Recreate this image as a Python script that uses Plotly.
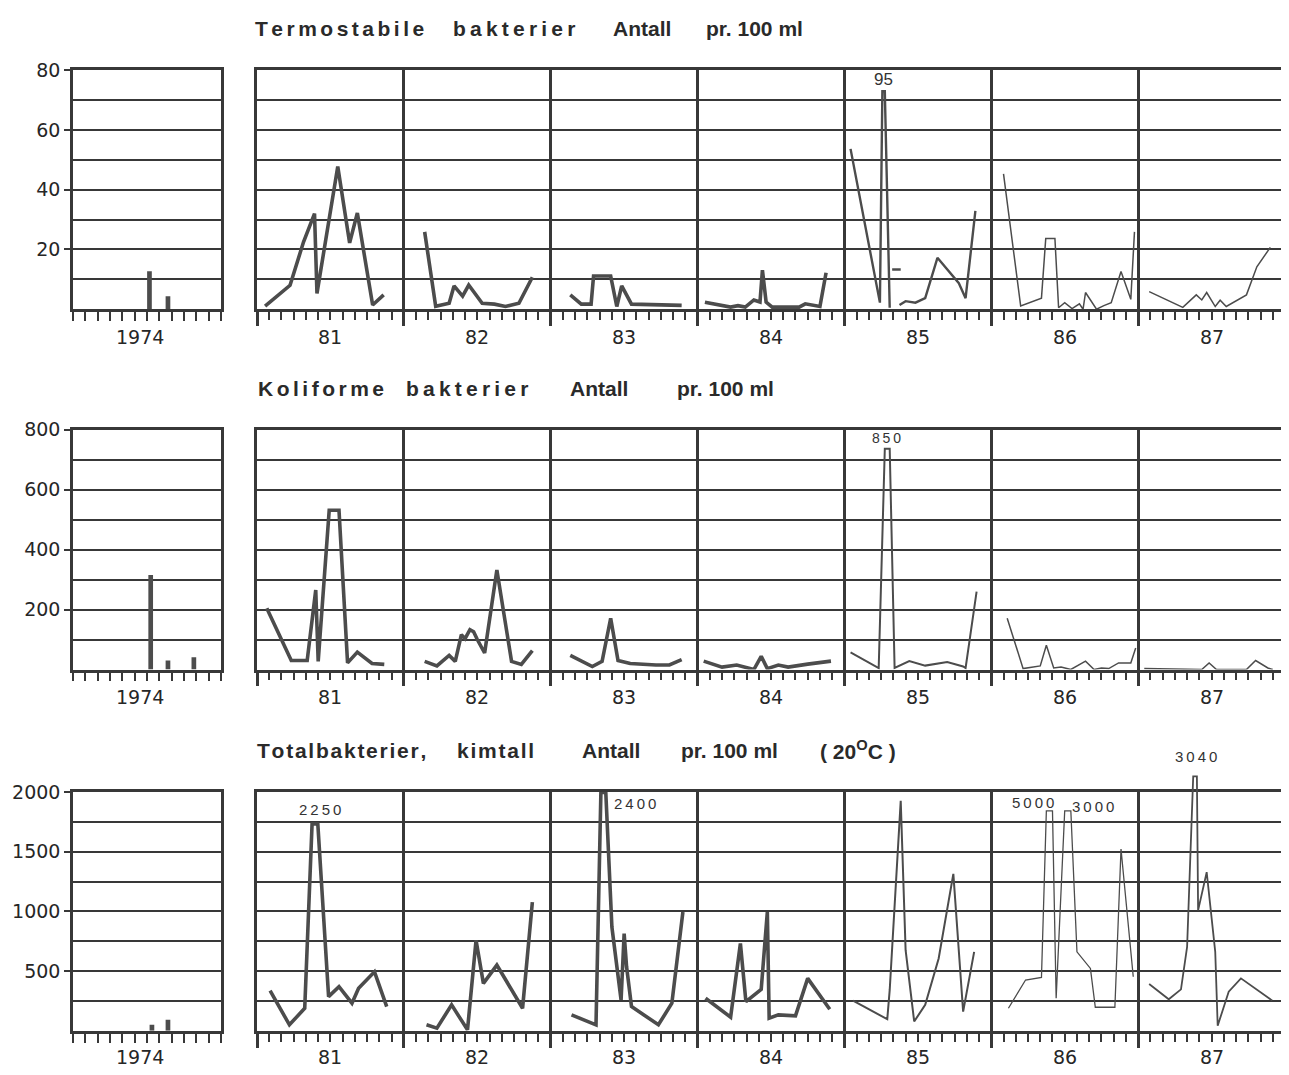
import plotly.graph_objects as go

W, H = 1289, 1075
OFF = 8  # page body margin of the html output
INK = "#383838"
LINE = "#4c4c4c"
FONT = "Liberation Sans"
NUM_FONT = "DejaVu Sans"

YEAR_LABELS = ["81", "82", "83", "84", "85", "86", "87"]

# x = months since Jan 1981 (main panels) / months into 1974 (small panels), None = gap
# Termostabile bakterier, antall pr. 100 ml
TERMO_1974_M = [6.2, 7.7]
TERMO_1974_V = [12.7, 4.3]
TERMO_M = [0.66, 2.7, 3.8, 4.7, 4.9, 6.6, 7.57, 8.2, 9.45, 10.35, None,
           13.7, 14.6, 15.7, 16.1, 16.8, 17.3, 18.4, 19.4, 20.3, 21.4, 22.5, None,
           25.6, 26.5, 27.3, 27.5, 28.9, 29.4, 29.8, 30.6, 34.7, None,
           36.6, 37.8, 38.7, 39.3, 39.9, 40.6, 41.1, 41.3, 41.6, 42.1, 44.3, 44.8, 46.0, 46.5, None,
           48.5, 50.9, 51.1, 51.3, 51.7, None,
           51.9, 52.6, None,
           52.5, 53.0, 53.8, 54.6, 55.6, 56.8, 57.35, 57.9, 58.7, None,
           61.0, 62.4, 64.1, 64.45, 65.2, 65.5, 66.0, 66.6, 67.2, 67.5, 67.7, 68.6, 69.2, 69.8, 70.6, 71.4, 71.7, None,
           72.9, 75.65, 76.75, 77.2, 77.6, 78.3, 78.7, 79.2, 80.85, 81.7, 82.8]
TERMO_V = [1, 8, 22.5, 32, 5.3, 47.8, 22.2, 32.2, 1.4, 4.8, None,
           25.9, 1, 2, 7.8, 4.4, 8.1, 2, 1.7, 0.9, 2, 10.7, None,
           4.8, 1.7, 1.7, 11.1, 11.1, 0.9, 7.8, 1.7, 1.3, None,
           2.3, 1.4, 0.7, 1.2, 0.7, 3.1, 2.4, 13.1, 2.4, 0.7, 0.7, 1.8, 0.9, 12.2, None,
           53.7, 2.2, 73, 73, 0.5, None,
           13.3, 13.3, None,
           1.4, 2.7, 2.2, 3.7, 17.2, 11.4, 8.7, 3.7, 32.9, None,
           45.3, 1.1, 3.7, 23.7, 23.7, 0.5, 2.2, 0.2, 1.8, 0, 5.6, 0, 1.2, 2.2, 12.6, 3.3, 25.9, None,
           5.9, 0.6, 4.8, 3.1, 5.6, 0.9, 3.0, 0.9, 4.8, 14.2, 20.7]
TERMO_NOTE_M = [51.2]
TERMO_NOTE_Y = [77]
TERMO_NOTE_TXT = ["95"]

# Koliforme bakterier, antall pr. 100 ml
KOLI_1974_M = [6.3, 7.7, 9.8]
KOLI_1974_V = [315, 30, 41]
KOLI_M = [0.8, 2.8, 4.1, 4.8, 5.0, 5.9, 6.7, 7.4, 8.2, 9.4, 10.4, None,
          13.7, 14.7, 15.7, 16.2, 16.7, 17.0, 17.4, 17.7, 18.0, 18.6, 19.6, 20.8, 21.6, 22.5, None,
          25.6, 27.4, 28.2, 28.9, 29.5, 30.5, 32.6, 33.7, 34.7, None,
          36.5, 38.0, 39.2, 40.6, 41.2, 41.7, 42.6, 43.4, 45.0, 46.9, None,
          48.5, 50.8, 51.3, 51.7, 52.1, 53.3, 54.6, 56.4, 57.7, 57.9, 58.8, None,
          61.3, 62.6, 64.0, 64.5, 65.1, 65.7, 66.5, 67.7, 68.4, 69.0, 69.6, 70.4, 71.4, 71.8, None,
          72.5, 77.2, 77.8, 78.4, 80.85, 81.6, 82.6, 83.0]
KOLI_V = [204, 30, 30, 265, 27, 531, 531, 22, 58, 20, 17, None,
          27, 12, 47, 27, 116, 103, 133, 126, 100, 55, 332, 27, 17, 63, None,
          47, 10, 27, 171, 30, 20, 15, 15, 33, None,
          28, 8, 15, 0, 44, 3, 15, 8, 18, 28, None,
          57, 5, 736, 736, 5, 28, 13, 25, 10, 5, 260, None,
          171, 3, 12, 81, 5, 8, 0, 28, 0, 5, 3, 22, 22, 72, None,
          3, 0, 22, 0, 0, 30, 5, 0]
KOLI_NOTE_M = [51.4]
KOLI_NOTE_Y = [771]
KOLI_NOTE_TXT = ["850"]

# Totalbakterier, kimtall, antall pr. 100 ml (20 C)
TOTAL_1974_M = [6.4, 7.7]
TOTAL_1974_V = [50, 92]
TOTAL_M = [1.07, 2.65, 3.9, 4.5, 4.97, 5.85, 6.7, 7.76, 8.3, 9.6, 10.6, None,
           13.85, 14.7, 15.9, 17.2, 17.9, 18.5, 19.6, 21.7, 22.5, None,
           25.7, 27.7, 28.1, 28.5, 29.0, 29.75, 30.0, 30.2, 30.6, 32.8, 33.9, 34.8, None,
           36.65, 38.7, 39.5, 39.95, 41.2, 41.7, 41.85, 42.6, 44.0, 45.0, 46.8, None,
           48.7, 51.5, 51.7, 52.6, 53.0, 53.7, 54.6, 55.7, 56.9, 57.7, 58.6, None,
           61.4, 62.8, 64.1, 64.5, 65.0, 65.3, 66.0, 66.5, 67.0, 68.1, 68.5, 70.1, 70.6, 71.6, None,
           72.9, 74.5, 75.5, 76.0, 76.5, 76.8, 76.9, 77.6, 78.3, 78.5, 79.4, 80.4, 82.95]
TOTAL_V = [336, 50, 189, 1731, 1731, 286, 369, 231, 356, 494, 203, None,
           50, 22, 217, 8, 758, 397, 550, 189, 1078, None,
           133, 50, 1995, 1995, 869, 258, 814, 536, 203, 50, 231, 994, None,
           272, 114, 731, 244, 347, 994, 106, 133, 125, 439, 181, None,
           253, 97, 342, 1925, 675, 78, 217, 606, 1314, 161, 661, None,
           189, 425, 447, 1842, 1842, 272, 1842, 1842, 661, 522, 197, 197, 1522, 453, None,
           392, 264, 347, 703, 2130, 2130, 1008, 1328, 661, 42, 328, 439, 253]
TOTAL_NOTE_M = [5.15, 30.9, 63.4, 68.3, 76.7]
TOTAL_NOTE_Y = [1850, 1900, 1911, 1875, 2300]
TOTAL_NOTE_TXT = ["2250", "2400", "5000", "3000", "3040"]

# ---- layout geometry (pixels of the page) ----
SMALL_X = (73, 221)
MAIN_X = (257, 1285)
ROWS = [
    dict(top=66, bottom=306, ymax=80, grid=10, labels=[20, 40, 60, 80], year_y=334,
         title_y=24, widths=[3.6, 3.6, 3.6, 3.6, 2.4, 1.5, 1.5], note_size=17,
         m74=TERMO_1974_M, v74=TERMO_1974_V, m=TERMO_M, v=TERMO_V,
         nm=TERMO_NOTE_M, ny=TERMO_NOTE_Y, nt=TERMO_NOTE_TXT,
         words=[("Termostabile", 253, "\u2006"), ("bakterier", 451, "\u2009"),
                ("Antall", 611, ""), ("pr. 100 ml", 704, "")]),
    dict(top=427, bottom=668, ymax=800, grid=100, labels=[200, 400, 600, 800], year_y=696,
         title_y=386, widths=[3.6, 3.6, 3.6, 3.6, 2.0, 1.5, 1.5], note_size=14,
         m74=KOLI_1974_M, v74=KOLI_1974_V, m=KOLI_M, v=KOLI_V,
         nm=KOLI_NOTE_M, ny=KOLI_NOTE_Y, nt=KOLI_NOTE_TXT,
         words=[("Koliforme", 256, "\u2006"), ("bakterier", 404, "\u2009"),
                ("Antall", 568, ""), ("pr. 100 ml", 675, "")]),
    dict(top=791, bottom=1031, ymax=2000, grid=250, labels=[500, 1000, 1500, 2000], year_y=1057,
         title_y=749, widths=[3.6, 3.6, 3.6, 3.6, 2.0, 1.3, 1.8], note_size=15,
         m74=TOTAL_1974_M, v74=TOTAL_1974_V, m=TOTAL_M, v=TOTAL_V,
         nm=TOTAL_NOTE_M, ny=TOTAL_NOTE_Y, nt=TOTAL_NOTE_TXT,
         words=[("Totalbakterier,", 255, "\u200a"), ("kimtall", 455, "\u200a"),
                ("Antall", 580, ""), ("pr. 100 ml", 679, ""),
                ("( 20<sup>O</sup>C )", 818, "")]),
]
OVERFLOW_TOP = 735  # the 1987 total-count spike and its label sit above the frame


def px(x):
    return (x - OFF) / W


def py(y):
    # small upward nudge near the top of the page
    y = y - (6.5 - 6 * y / H)
    return 1 - (y - OFF) / H


def segments(ms, vs):
    seg_m, seg_v = [], []
    for m, v in zip(ms, vs):
        if m is None:
            if seg_m:
                yield seg_m, seg_v
            seg_m, seg_v = [], []
        else:
            seg_m.append(m)
            seg_v.append(v)
    if seg_m:
        yield seg_m, seg_v


fig = go.Figure()
layout = dict(width=W, height=H, margin=dict(l=0, r=0, t=0, b=0),
              paper_bgcolor="white", plot_bgcolor="rgba(0,0,0,0)", showlegend=False,
              font=dict(family=FONT, color=INK))
annotations = []

# invisible overlay axes sharing the bottom row's scale, so a spike can leave the frame
last = ROWS[-1]
y_lo, y_hi = py(last["bottom"]), py(last["top"])
ov_hi = py(OVERFLOW_TOP)
layout["xaxis7"] = dict(domain=[px(MAIN_X[0]), px(MAIN_X[1])], range=[0, 84],
                        anchor="y7", visible=False)
layout["yaxis7"] = dict(domain=[y_lo, ov_hi],
                        range=[0, last["ymax"] * (ov_hi - y_lo) / (y_hi - y_lo)],
                        anchor="x7", visible=False)

for r, row in enumerate(ROWS):
    a, b = 2 * r + 1, 2 * r + 2
    ydom = [py(row["bottom"]), py(row["top"])]
    frame = dict(showline=True, mirror=True, linewidth=2.5, linecolor=INK, zeroline=False)

    layout[f"xaxis{a}"] = dict(domain=[px(SMALL_X[0]), px(SMALL_X[1])], range=[0, 12],
                               anchor=f"y{a}", tickvals=list(range(13)), ticks="outside",
                               ticklen=9, tickwidth=2, tickcolor=INK, showticklabels=False,
                               showgrid=False, **frame)
    layout[f"yaxis{a}"] = dict(domain=ydom, range=[0, row["ymax"]], anchor=f"x{a}",
                               tickvals=row["labels"], ticks="outside", ticklen=6, tickwidth=2,
                               tickcolor=INK, tickfont=dict(family=NUM_FONT, size=19, color="#262626"),
                               showgrid=True, gridcolor=INK, gridwidth=2,
                               minor=dict(tickmode="linear", tick0=0, dtick=row["grid"],
                                          showgrid=True, gridcolor=INK, gridwidth=2),
                               **frame)
    layout[f"xaxis{b}"] = dict(domain=[px(MAIN_X[0]), px(MAIN_X[1])], range=[0, 84],
                               anchor=f"y{b}", tickvals=list(range(0, 85, 12)), ticks="outside",
                               ticklen=14, tickwidth=2.5, tickcolor=INK, showticklabels=False,
                               showgrid=True, gridcolor=INK, gridwidth=2.5,
                               minor=dict(tickmode="linear", tick0=0, dtick=1, ticks="outside",
                                          ticklen=8, tickwidth=2, tickcolor=INK, showgrid=False),
                               **frame)
    layout[f"yaxis{b}"] = dict(domain=ydom, range=[0, row["ymax"]], anchor=f"x{b}",
                               tickvals=list(range(0, row["ymax"] + 1, row["grid"])),
                               showticklabels=False, ticks="",
                               showgrid=True, gridcolor=INK, gridwidth=2, **frame)

    # 1974 samples
    fig.add_trace(go.Bar(x=row["m74"], y=row["v74"], width=0.38, marker_color=LINE,
                         marker_line_width=0, xaxis=f"x{a}", yaxis=f"y{a}"))

    # 1981-87 series, one trace per drawn segment
    for sm, sv in segments(row["m"], row["v"]):
        yr = min(int(sm[0] // 12), 6)
        over = max(sv) > row["ymax"]
        fig.add_trace(go.Scatter(x=sm, y=sv, mode="lines",
                                 line=dict(color=LINE, width=row["widths"][yr]),
                                 xaxis="x7" if over else f"x{b}",
                                 yaxis="y7" if over else f"y{b}", hoverinfo="skip"))

    # off-scale values written above the spikes
    for nm, ny, nt in zip(row["nm"], row["ny"], row["nt"]):
        txt = nt if r == 0 else "\u2009".join(nt)
        over = ny > row["ymax"]
        annotations.append(dict(x=nm, y=ny, xref="x7" if over else f"x{b}",
                                yref="y7" if over else f"y{b}", text=txt,
                                xanchor="center", yanchor="middle", showarrow=False,
                                font=dict(family=FONT, size=row["note_size"], color="#333")))

    # year labels
    annotations.append(dict(x=5.4, y=py(row["year_y"]), xref=f"x{a}", yref="paper", text="1974",
                            xanchor="center", yanchor="middle", showarrow=False,
                            font=dict(family=NUM_FONT, size=19, color="#262626")))
    for i, lab in enumerate(YEAR_LABELS):
        annotations.append(dict(x=6 + 12 * i, y=py(row["year_y"]), xref=f"x{b}", yref="paper",
                                text=lab, xanchor="center", yanchor="middle", showarrow=False,
                                font=dict(family=NUM_FONT, size=19, color="#262626")))

    # title words
    for word, x0, gap in row["words"]:
        txt = word if not gap or "<" in word else gap.join(word)
        annotations.append(dict(x=px(x0), y=py(row["title_y"]), xref="paper", yref="paper",
                                xanchor="left", yanchor="middle", text=txt, showarrow=False,
                                font=dict(family=FONT, size=21, color="#2a2a2a", weight="bold")))

layout["annotations"] = annotations
fig.update_layout(**layout)
fig.write_html("out.html")
